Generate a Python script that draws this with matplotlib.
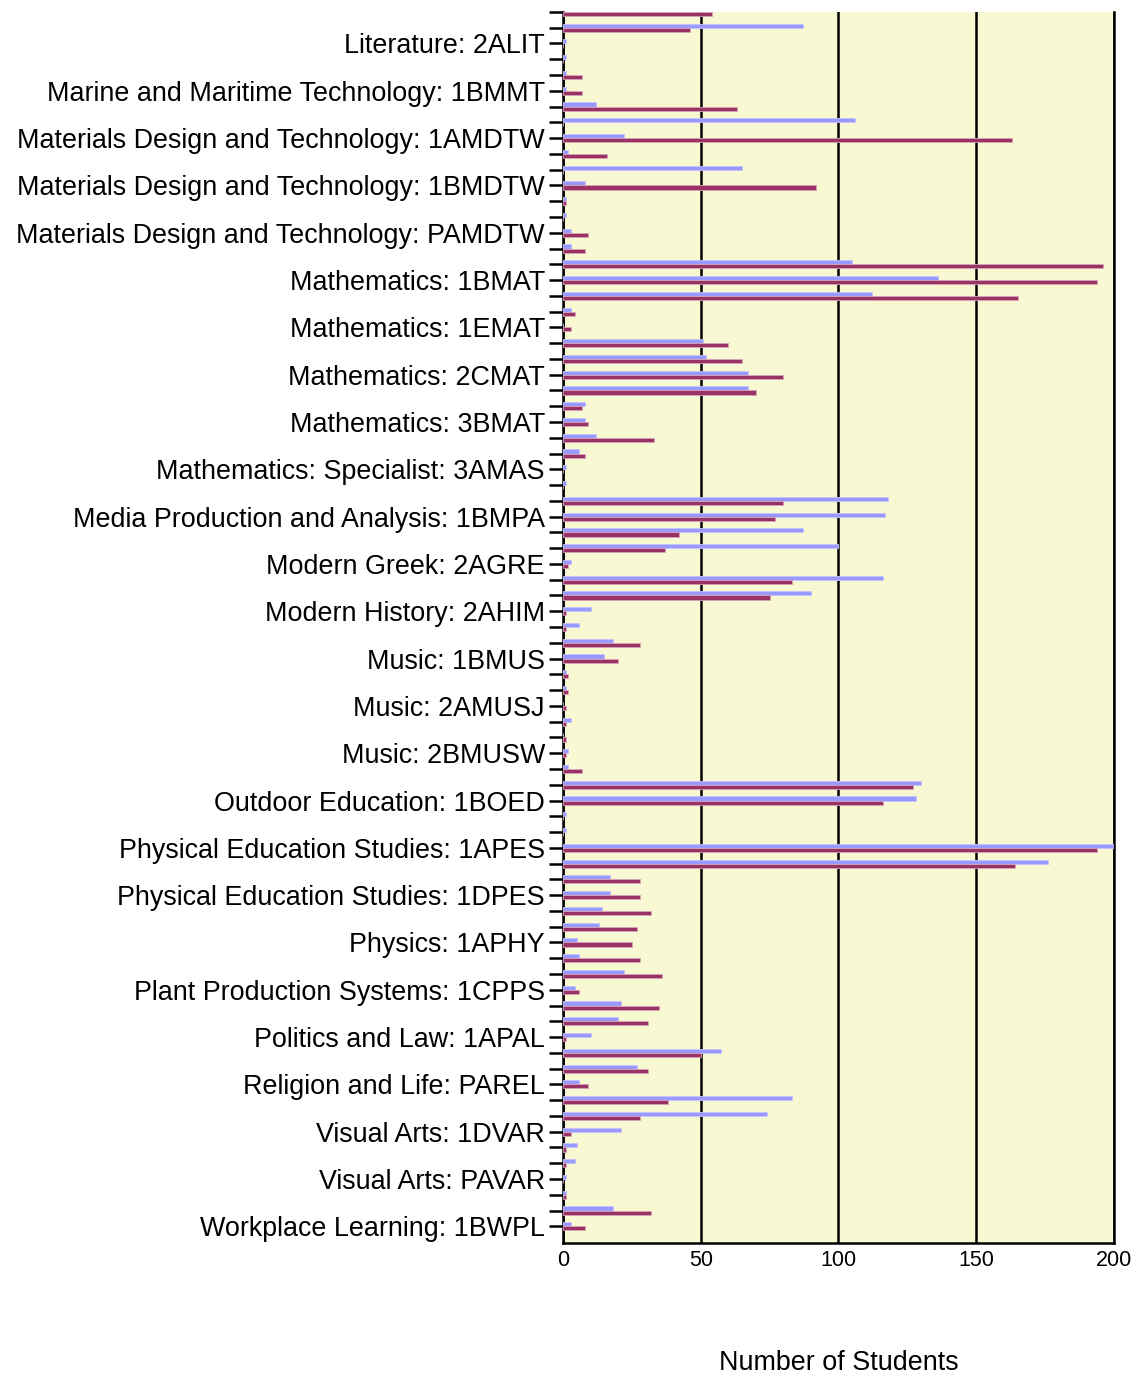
import matplotlib
matplotlib.use("Agg")
import matplotlib.pyplot as plt
import numpy as np

plt.rcParams['font.family'] = ['Liberation Sans', 'DejaVu Sans']

# only every third course carries a visible label in the chart
course_labels = [
    "Literature: 2ALIT",
    "Marine and Maritime Technology: 1BMMT",
    "Materials Design and Technology: 1AMDTW",
    "Materials Design and Technology: 1BMDTW",
    "Materials Design and Technology: PAMDTW",
    "Mathematics: 1BMAT",
    "Mathematics: 1EMAT",
    "Mathematics: 2CMAT",
    "Mathematics: 3BMAT",
    "Mathematics: Specialist: 3AMAS",
    "Media Production and Analysis: 1BMPA",
    "Modern Greek: 2AGRE",
    "Modern History: 2AHIM",
    "Music: 1BMUS",
    "Music: 2AMUSJ",
    "Music: 2BMUSW",
    "Outdoor Education: 1BOED",
    "Physical Education Studies: 1APES",
    "Physical Education Studies: 1DPES",
    "Physics: 1APHY",
    "Plant Production Systems: 1CPPS",
    "Politics and Law: 1APAL",
    "Religion and Life: PAREL",
    "Visual Arts: 1DVAR",
    "Visual Arts: PAVAR",
    "Workplace Learning: 1BWPL",
]

# students per course, top to bottom (first row is cut off at the top)
students_blue = [
    0, 87, 1, 1, 1, 1, 12, 106, 22, 2,
    65, 8, 1, 1, 3, 3, 105, 136, 112, 3,
    0, 51, 52, 67, 67, 8, 8, 12, 6, 1,
    1, 118, 117, 87, 100, 3, 116, 90, 10, 6,
    18, 15, 1, 1, 0, 3, 0, 2, 2, 130,
    128, 1, 1, 200, 176, 17, 17, 14, 13, 5,
    6, 22, 4.5, 21, 20, 10, 57.5, 27, 6, 83,
    74, 21, 5, 4.5, 1, 1, 18, 3,
]
students_maroon = [
    54, 46, 0, 0, 7, 7, 63, 0, 163, 16,
    0, 92, 1, 0, 9, 8, 196, 194, 165, 4.5,
    3, 60, 65, 80, 70, 7, 9, 33, 8, 0,
    0, 80, 77, 42, 37, 2, 83, 75, 1, 1,
    28, 20, 2, 2, 1, 1, 1, 1, 7, 127,
    116, 0, 0, 194, 164, 28, 28, 32, 27, 25,
    28, 36, 6, 35, 31, 1, 50, 31, 9, 38,
    28, 3, 1, 1, 0, 1, 32, 8,
]

n = len(students_blue)
pos = np.arange(n)
label_pos = pos[2::3]

fig = plt.figure(figsize=(11.35, 13.74), dpi=100)
ax = fig.add_axes([0.496, 0.0953, 0.4855, 0.896])
ax.set_facecolor('#F8F8D2')

bar_h = 0.26
ax.barh(pos - 0.13, students_blue, height=bar_h, color='#9999FF',
        edgecolor='#C4C4FF', linewidth=0.6, zorder=3)
ax.barh(pos + 0.13, students_maroon, height=bar_h, color='#993366',
        edgecolor='#D9A3B8', linewidth=0.6, zorder=3)

ax.set_xlim(0, 200)
ax.set_ylim(78.06, 0)

ax.set_xticks([0, 50, 100, 150, 200])
ax.tick_params(axis='x', length=0, pad=5, labelsize=15.5)
ax.set_yticks(pos, minor=True)
ax.set_yticks(label_pos)
ax.set_yticklabels(course_labels, fontsize=19.4)
ax.tick_params(axis='y', which='both', length=10, width=1.8, pad=3,
               direction='out', color='black')
ax.tick_params(axis='y', which='minor', labelleft=False)

ax.xaxis.grid(True, color='black', linewidth=1.8, zorder=1)
ax.set_axisbelow(True)

for side in ['left', 'bottom', 'right']:
    ax.spines[side].set_color('black')
    ax.spines[side].set_linewidth(1.8)
ax.spines['top'].set_visible(False)

ax.set_xlabel('Number of Students', fontsize=19.4)
ax.xaxis.set_label_coords(0.5, -0.087)

plt.savefig('out.png', dpi=100)
